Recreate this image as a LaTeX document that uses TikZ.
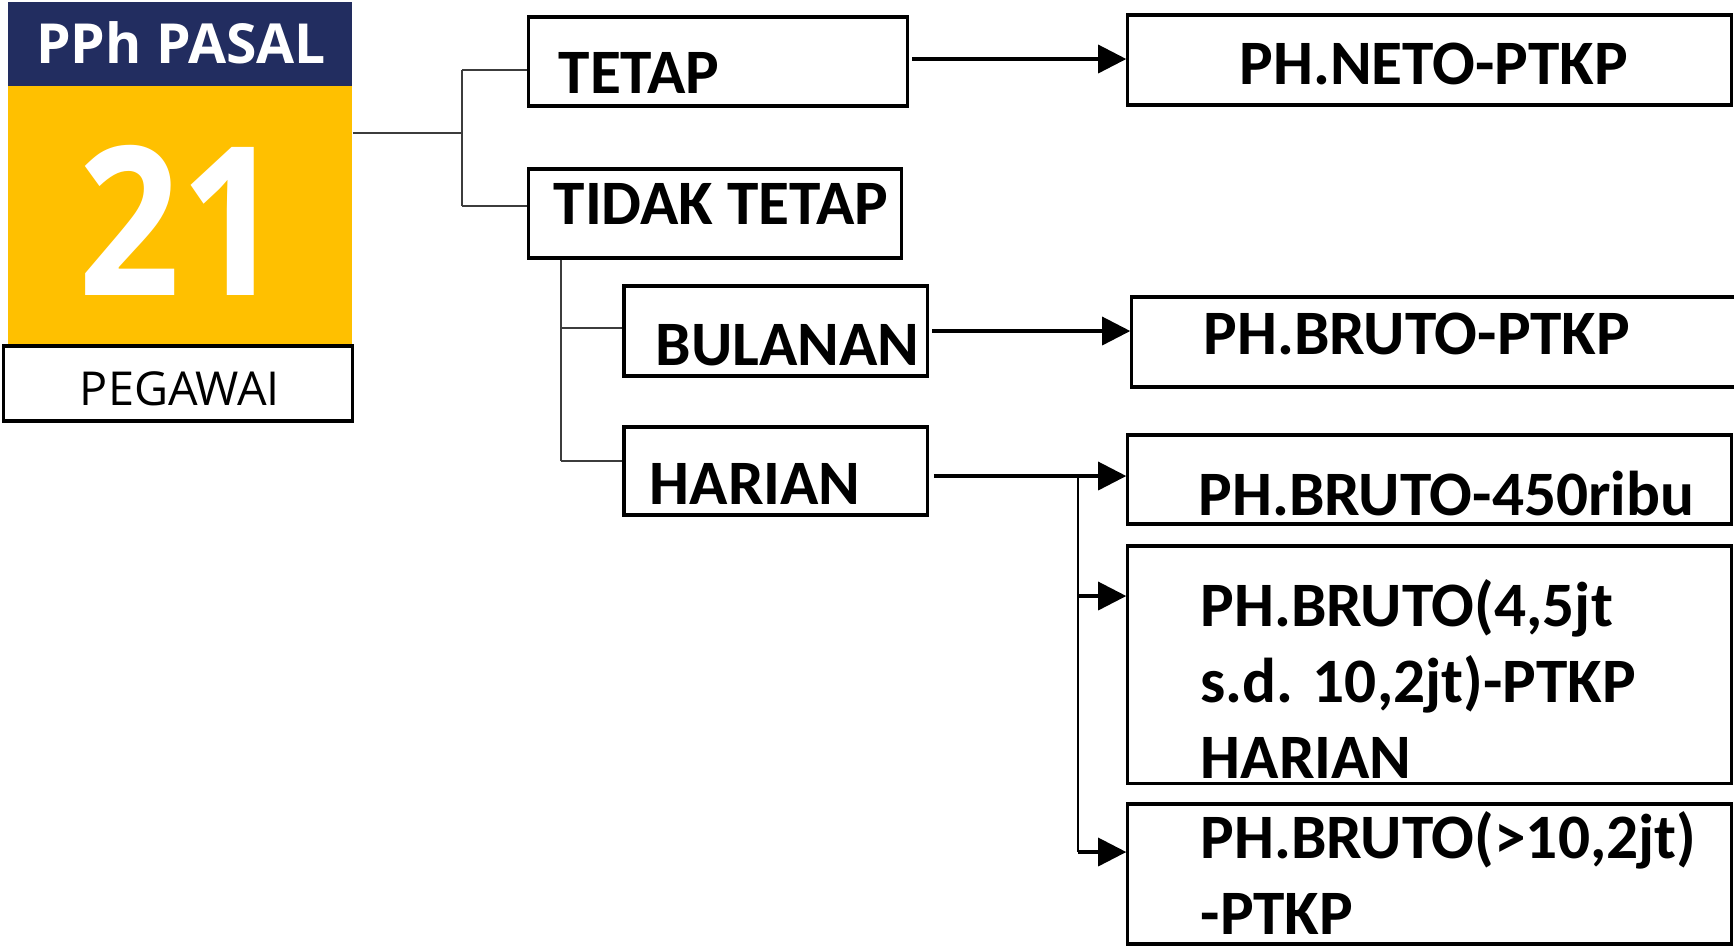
\documentclass[tikz,border=0pt]{standalone}
\usepackage{fontspec}
\usetikzlibrary{arrows.meta}
\newfontfamily\carl{Carlito}
\newfontfamily\osans{Open Sans}
\definecolor{navy}{RGB}{34,45,96}
\definecolor{gold}{RGB}{255,192,0}
\definecolor{lgray}{RGB}{60,60,60}
\tikzset{
  box/.style={draw=black, line width=0.9pt, inner sep=0pt, fill=white},
  txt/.style={anchor=base west, inner sep=0pt, align=left,
    font=\carl\bfseries\fontsize{18}{21.6}\selectfont},
  thinline/.style={draw=lgray, line width=0.45pt},
  arr/.style={draw=black, line width=0.9pt, -{Triangle[length=0.28cm,width=0.28cm]}},
}
\begin{document}
\begin{tikzpicture}[x=0.01cm,y=-0.01cm]
\useasboundingbox (0,0) rectangle (1734,947);
% logo
\node[fill=navy, inner sep=0pt, minimum width=3.44cm, minimum height=0.84cm] (logoN) at (180,44) {};
\node[fill=gold, inner sep=0pt, minimum width=3.44cm, minimum height=2.60cm] (logoY) at (180,216) {};
\node[draw=black, line width=0.9pt, inner sep=0pt, minimum width=3.48cm, minimum height=0.75cm] (pegawai) at (178,383.5) {};
\node[anchor=base, inner sep=0pt, text=white, font=\osans\bfseries\fontsize{15.7}{17}\selectfont] (pphT) at (181,63) {PPh PASAL};
\node[anchor=base, inner sep=0pt, text=white, font=\osans\bfseries\fontsize{59}{60}\selectfont] (num) at (180,295) {\scalebox{0.86}[1]{21}};
\node[anchor=base, inner sep=0pt, text=black, font=\osans\fontsize{13.3}{15}\selectfont] (pegT) at (180,405) {PEGAWAI};
% level 1
\node[box, minimum width=3.78cm, minimum height=0.89cm] (tetap) at (718,61.5) {};
\node[txt] (tetapT) at (558,93) {TETAP};
\node[box, minimum width=3.72cm, minimum height=0.89cm] (tidak) at (715,213.5) {};
\node[txt] (tidakT) at (553,224) {TIDAK TETAP};
% level 2
\node[box, minimum width=3.03cm, minimum height=0.90cm] (bulanan) at (775.5,331) {};
\node[txt] (bulananT) at (655,365) {BULANAN};
\node[box, minimum width=3.03cm, minimum height=0.88cm] (harian) at (775.5,471) {};
\node[txt] (harianT) at (649,504) {HARIAN};
% right boxes
\node[box, minimum width=6.03cm, minimum height=0.90cm] (neto) at (1429.5,60) {};
\node[txt] (netoT) at (1239,84) {PH.NETO-PTKP};
\node[box, minimum width=6.08cm, minimum height=0.90cm] (bruto) at (1436,342) {};
\node[txt] (brutoT) at (1203,354) {PH.BRUTO-PTKP};
\node[box, minimum width=6.03cm, minimum height=0.89cm] (ribu) at (1429.5,479.5) {};
\node[txt] (ribuT) at (1198,515) {PH.BRUTO-450ribu};
\node[box, minimum width=6.03cm, minimum height=2.37cm] (mid) at (1429.5,664.5) {};
\node[txt] (midT) at (1200,778) {PH.BRUTO(4,5jt\\s.d. 10,2jt)-PTKP\\HARIAN};
\node[box, minimum width=6.03cm, minimum height=1.40cm] (gt) at (1429.5,874) {};
\node[txt] (gtT) at (1200,934) {PH.BRUTO(>10,2jt)\\-PTKP};
% thin connectors
\coordinate (j0) at (462,133);
\coordinate (j1) at (462,70);
\coordinate (j2) at (462,206);
\draw[thinline] (logoY.east |- j0) -- (j0);
\draw[thinline] (j1) -- (j2);
\draw[thinline] (j1) -- (j1 -| tetap.west);
\draw[thinline] (j2) -- (j2 -| tidak.west);
\coordinate (s1) at (561,328);
\coordinate (s2) at (561,461);
\draw[thinline] (tidak.south -| s1) -- (s2);
\draw[thinline] (s1) -- (s1 -| bulanan.west);
\draw[thinline] (s2) -- (s2 -| harian.west);
% arrows
\draw[arr] ([xshift=1pt]tetap.east |- 0,59) -- (neto.west |- 0,59);
\draw[arr] ([xshift=1pt]bulanan.east) -- (bulanan.east -| bruto.west);
\coordinate (h0) at (1078,476);
\coordinate (h1) at (1078,596);
\coordinate (h2) at (1078,852);
\draw[arr] ([xshift=1.5pt]harian.east |- h0) -- (h0 -| ribu.west);
\draw[line width=0.7pt] (h0) -- (h2);
\draw[arr] (h1) -- (h1 -| mid.west);
\draw[arr] (h2) -- (h2 -| gt.west);
\end{tikzpicture}
\end{document}
